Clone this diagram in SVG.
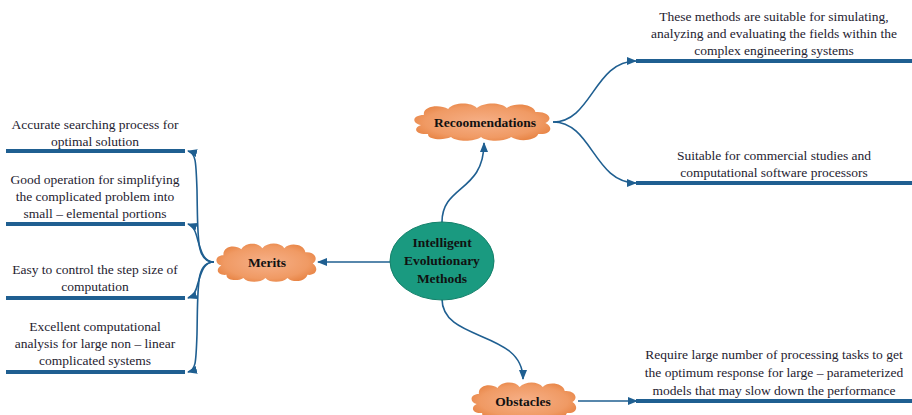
<svg xmlns="http://www.w3.org/2000/svg" xmlns:xlink="http://www.w3.org/1999/xlink" width="912" height="415" viewBox="0 0 912 415">
  <defs>
    <radialGradient id="cloudFill" cx="50%" cy="50%" r="60%">
      <stop offset="0%" stop-color="#f6b088"/>
      <stop offset="70%" stop-color="#f09a64"/>
      <stop offset="100%" stop-color="#e6803f"/>
    </radialGradient>
    <!-- cloud outline in a 100x40 box, stretched per node -->
    <symbol id="cloud" viewBox="0 0 100 40" preserveAspectRatio="none">
      <path d="M7,23 C0,21 1,13 9,13 C8,4 20,2 26,7 C30,0 42,0 46,6 C51,0 63,0 67,6 C72,0 86,2 87,10 C96,9 100,17 94,21 C100,25 98,33 89,32 C87,39 75,40 70,35 C65,40 53,40 49,35 C44,40 32,40 28,35 C22,39 11,37 12,32 C3,33 1,26 7,23 Z" fill="url(#cloudFill)"/>
    </symbol>
    <marker id="arrow" markerUnits="userSpaceOnUse" markerWidth="10" markerHeight="10" viewBox="0 0 10 10" refX="9" refY="5" orient="auto">
      <path d="M0,1 L10,5 L0,9 Z" fill="#1f5f91"/>
    </marker>
    <style>
      .conn { fill: none; stroke: #1f5f91; stroke-width: 1.6; marker-end: url(#arrow); }
      .bar { stroke: #1f5f91; stroke-width: 4; }
    </style>
  </defs>

  <rect width="912" height="415" fill="#ffffff"/>

  <!-- connectors -->
  <g id="connectors">
    <path class="conn" d="M390,262 L318,262"/>
    <path class="conn" d="M442,222 C442,185 484,192 484,143"/>
    <path class="conn" d="M442,299 C442,342 523,330 523,379"/>
    <path class="conn" d="M578,401 L637,401"/>
    <path class="conn" d="M553,122 C592,122 594,61 636,61"/>
    <path class="conn" d="M553,122 C592,122 594,183 636,183"/>
    <path class="conn" d="M214,262 C196,262 198,240 197,190 C196,162 196,153 188,151"/>
    <path class="conn" d="M214,262 C203,262 201,250 198,241 C196,233 194,226 188,224"/>
    <path class="conn" d="M214,262 C203,262 201,274 198,283 C196,291 194,296 188,298"/>
    <path class="conn" d="M214,262 C196,262 198,284 197,334 C196,362 196,370 188,372"/>
  </g>

  <!-- leaf bars -->
  <g id="bars">
    <line class="bar" x1="6" y1="151" x2="185" y2="151"/>
    <line class="bar" x1="6" y1="224" x2="185" y2="224"/>
    <line class="bar" x1="6" y1="298" x2="185" y2="298"/>
    <line class="bar" x1="6" y1="372" x2="185" y2="372"/>
    <line class="bar" x1="636" y1="61" x2="912" y2="61"/>
    <line class="bar" x1="636" y1="183" x2="912" y2="183"/>
    <line class="bar" x1="636" y1="401" x2="912" y2="401"/>
  </g>

  <g id="center" font-family="'Liberation Serif', 'DejaVu Serif', serif" font-size="13.5" font-weight="bold" fill="#111111" text-anchor="middle">
    <ellipse cx="442" cy="261" rx="52" ry="39" fill="#1a9a80" stroke="#13806a" stroke-width="1"/>
    <text x="442" y="247">Intelligent</text>
    <text x="442" y="265">Evolutionary</text>
    <text x="442" y="283">Methods</text>
  </g>

  <g id="recommendations" font-family="'Liberation Serif', 'DejaVu Serif', serif" font-size="13.5" font-weight="bold" fill="#111111" text-anchor="middle">
    <use xlink:href="#cloud" x="411" y="102" width="143" height="40"/>
    <text x="485" y="127">Recoomendations</text>
  </g>

  <g id="merits" font-family="'Liberation Serif', 'DejaVu Serif', serif" font-size="13.5" font-weight="bold" fill="#111111" text-anchor="middle">
    <use xlink:href="#cloud" x="214" y="242" width="105" height="41"/>
    <text x="267" y="267">Merits</text>
  </g>

  <g id="obstacles" font-family="'Liberation Serif', 'DejaVu Serif', serif" font-size="13.5" font-weight="bold" fill="#111111" text-anchor="middle">
    <use xlink:href="#cloud" x="469" y="381" width="110" height="40"/>
    <text x="523" y="406">Obstacles</text>
  </g>

  <g id="merit-1" font-family="'Liberation Serif', 'DejaVu Serif', serif" font-size="13.5" fill="#1e2230" text-anchor="middle">
    <text x="95" y="129">Accurate searching process for</text>
    <text x="95" y="146">optimal solution</text>
  </g>
  <g id="merit-2" font-family="'Liberation Serif', 'DejaVu Serif', serif" font-size="13.5" fill="#1e2230" text-anchor="middle">
    <text x="95" y="184">Good operation for simplifying</text>
    <text x="95" y="201">the complicated problem into</text>
    <text x="95" y="218">small – elemental portions</text>
  </g>
  <g id="merit-3" font-family="'Liberation Serif', 'DejaVu Serif', serif" font-size="13.5" fill="#1e2230" text-anchor="middle">
    <text x="95" y="274">Easy to control the step size of</text>
    <text x="95" y="291">computation</text>
  </g>
  <g id="merit-4" font-family="'Liberation Serif', 'DejaVu Serif', serif" font-size="13.5" fill="#1e2230" text-anchor="middle">
    <text x="95" y="331">Excellent computational</text>
    <text x="95" y="348">analysis for large non – linear</text>
    <text x="95" y="365">complicated systems</text>
  </g>

  <g id="recommendation-1" font-family="'Liberation Serif', 'DejaVu Serif', serif" font-size="13.5" fill="#1e2230" text-anchor="middle">
    <text x="774" y="21">These methods are suitable for simulating,</text>
    <text x="774" y="38">analyzing and evaluating the fields within the</text>
    <text x="774" y="55">complex engineering systems</text>
  </g>
  <g id="recommendation-2" font-family="'Liberation Serif', 'DejaVu Serif', serif" font-size="13.5" fill="#1e2230" text-anchor="middle">
    <text x="774" y="160">Suitable for commercial studies and</text>
    <text x="774" y="177">computational software processors</text>
  </g>

  <g id="obstacle-1" font-family="'Liberation Serif', 'DejaVu Serif', serif" font-size="13.5" fill="#1e2230" text-anchor="middle">
    <text x="774" y="359">Require large number of processing tasks to get</text>
    <text x="774" y="377">the optimum response for large – parameterized</text>
    <text x="774" y="395">models that may slow down the performance</text>
  </g>
</svg>
